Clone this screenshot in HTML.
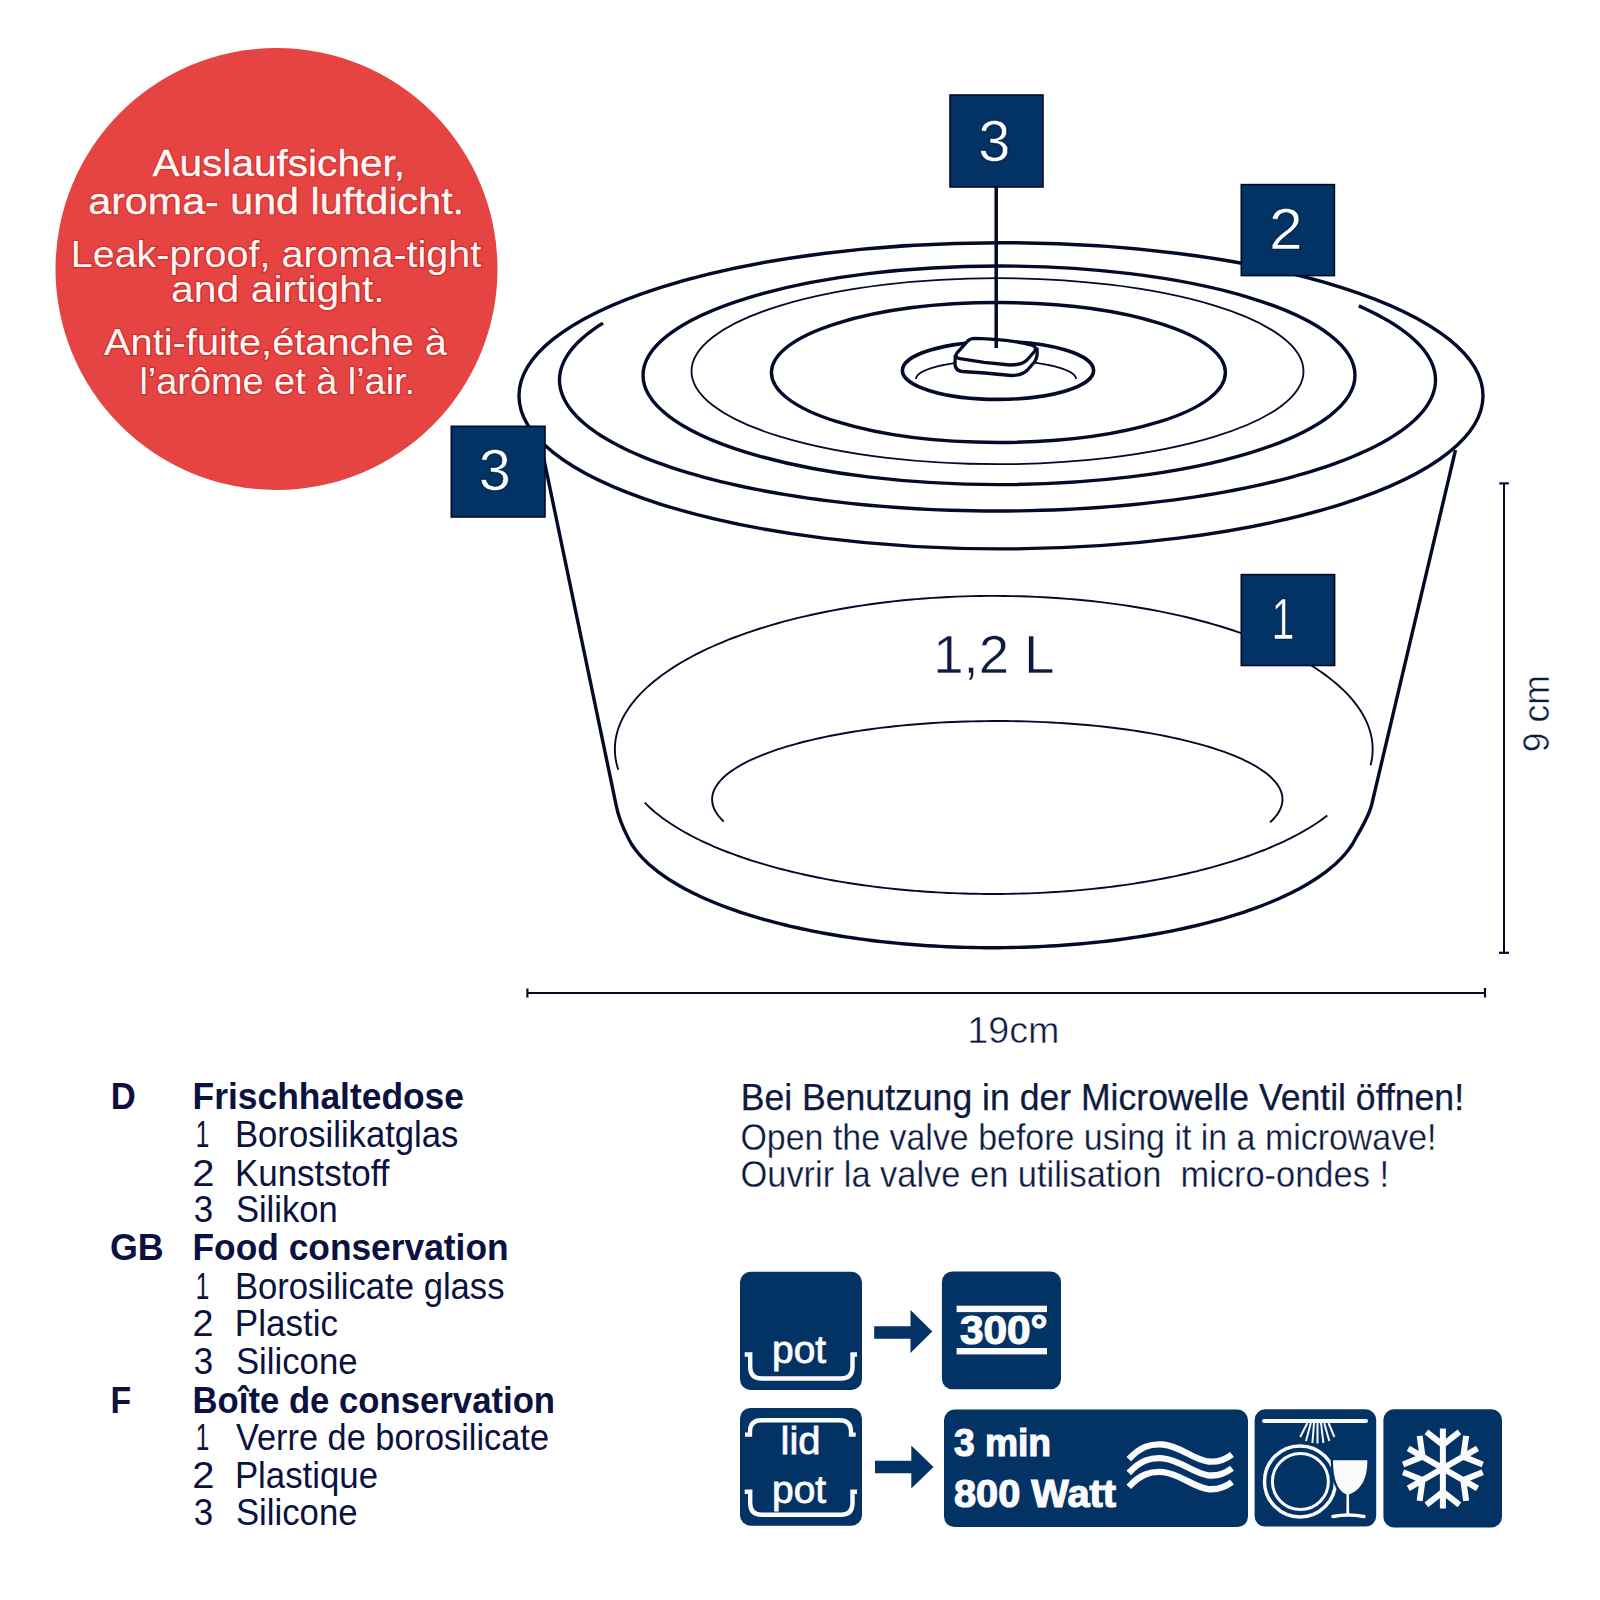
<!DOCTYPE html>
<html><head><meta charset="utf-8"><style>
html,body{margin:0;padding:0;background:#fff;width:1600px;height:1600px;overflow:hidden}
svg{display:block}
text{font-family:"Liberation Sans",sans-serif;white-space:pre}
</style></head><body>
<svg width="1600" height="1600" viewBox="0 0 1600 1600">
<rect width="1600" height="1600" fill="#fff"/>
<circle cx="276.5" cy="269" r="221" fill="#e64343"/>
<ellipse cx="1001" cy="395.8" rx="482" ry="153.1" fill="none" stroke="#040a2a" stroke-width="3.4"/>
<path d="M1358.75,305.92 L1365.11,308.78 L1371.23,311.68 L1377.08,314.64 L1382.68,317.63 L1388.01,320.67 L1393.07,323.75 L1397.86,326.87 L1402.38,330.03 L1406.62,333.22 L1410.57,336.44 L1414.25,339.69 L1417.63,342.97 L1420.73,346.27 L1423.54,349.60 L1426.06,352.95 L1428.28,356.32 L1430.21,359.70 L1431.84,363.10 L1433.17,366.51 L1434.20,369.92 L1434.94,373.35 L1435.37,376.78 L1435.50,380.21 L1435.33,383.64 L1434.86,387.07 L1434.09,390.50 L1433.02,393.91 L1431.65,397.32 L1429.99,400.72 L1428.03,404.10 L1425.77,407.46 L1423.21,410.81 L1420.37,414.13 L1417.23,417.44 L1413.81,420.71 L1410.10,423.96 L1406.11,427.18 L1401.84,430.36 L1397.29,433.51 L1392.46,436.63 L1387.37,439.70 L1382.00,442.74 L1376.38,445.73 L1370.49,448.67 L1364.35,451.57 L1357.95,454.42 L1351.31,457.22 L1344.42,459.97 L1337.30,462.66 L1329.94,465.29 L1322.36,467.87 L1314.55,470.38 L1306.52,472.84 L1298.29,475.23 L1289.84,477.55 L1281.20,479.81 L1272.36,482.00 L1263.33,484.11 L1254.12,486.16 L1244.73,488.14 L1235.18,490.04 L1225.46,491.86 L1215.58,493.61 L1205.55,495.28 L1195.39,496.87 L1185.08,498.38 L1174.65,499.81 L1164.09,501.15 L1153.42,502.42 L1142.65,503.60 L1131.77,504.69 L1120.80,505.70 L1109.75,506.62 L1098.62,507.46 L1087.42,508.21 L1076.16,508.87 L1064.85,509.44 L1053.49,509.93 L1042.09,510.32 L1030.66,510.62 L1019.20,510.84 L1007.74,510.96 L996.26,511.00 L984.79,510.94 L973.32,510.80 L961.87,510.57 L950.45,510.24 L939.06,509.83 L927.71,509.33 L916.40,508.73 L905.15,508.06 L893.97,507.29 L882.86,506.43 L871.82,505.49 L860.87,504.46 L850.02,503.35 L839.26,502.15 L828.62,500.87 L818.09,499.51 L807.68,498.06 L797.41,496.53 L787.27,494.92 L777.27,493.24 L767.43,491.47 L757.75,489.63 L748.23,487.72 L738.88,485.73 L729.70,483.66 L720.72,481.53 L711.92,479.33 L703.32,477.05 L694.92,474.72 L686.72,472.31 L678.75,469.85 L670.98,467.32 L663.45,464.73 L656.14,462.08 L649.07,459.38 L642.24,456.62 L635.65,453.81 L629.31,450.95 L623.22,448.04 L617.39,445.09 L611.82,442.09 L606.51,439.04 L601.47,435.96 L596.71,432.84 L592.22,429.68 L588.00,426.49 L584.07,423.26 L580.43,420.01 L577.06,416.73 L573.99,413.42 L571.21,410.09 L568.72,406.74 L566.53,403.37 L564.63,399.98 L563.02,396.59 L561.72,393.18 L560.72,389.76 L560.01,386.33 L559.61,382.90 L559.50,379.47 L559.70,376.04 L560.20,372.61 L561.00,369.19 L562.09,365.77 L563.49,362.36 L565.18,358.97 L567.17,355.59 L569.46,352.22 L572.04,348.88 L574.91,345.56 L578.07,342.26 L581.52,338.98 L585.26,335.74 L589.28,332.52 L593.57,329.34 L598.15,326.19 L603.00,323.08" fill="none" stroke="#040a2a" stroke-width="3.4"/>
<ellipse cx="999" cy="375.3" rx="356" ry="109.3" fill="none" stroke="#040a2a" stroke-width="3.4"/>
<ellipse cx="997.5" cy="371.2" rx="306" ry="93" fill="none" stroke="#040a2a" stroke-width="1.8"/>
<ellipse cx="998.4" cy="372.5" rx="227" ry="70" fill="none" stroke="#040a2a" stroke-width="3.4"/>
<ellipse cx="998" cy="370.5" rx="95.6" ry="28.9" fill="none" stroke="#040a2a" stroke-width="3.6"/>
<path d="M916.00,379.00 L916.11,378.03 L916.44,377.07 L916.98,376.11 L917.75,375.15 L918.73,374.21 L919.92,373.28 L921.31,372.37 L922.92,371.48 L924.72,370.60 L926.72,369.75 L928.91,368.92 L931.28,368.13 L933.83,367.36 L936.55,366.62 L939.43,365.92 L942.47,365.25 L945.65,364.62 L948.98,364.03 L952.43,363.48 L956.00,362.98 L959.68,362.52 L963.46,362.10 L967.33,361.73 L971.28,361.41 L975.29,361.13 L979.37,360.90 L983.49,360.73 L987.64,360.60 L991.81,360.53 L996.00,360.50 L1000.19,360.53 L1004.36,360.60 L1008.51,360.73 L1012.63,360.90 L1016.71,361.13 L1020.72,361.41 L1024.67,361.73 L1028.54,362.10 L1032.32,362.52 L1036.00,362.98 L1039.57,363.48 L1043.02,364.03 L1046.35,364.62 L1049.53,365.25 L1052.57,365.92 L1055.45,366.62 L1058.17,367.36 L1060.72,368.13 L1063.09,368.92 L1065.28,369.75 L1067.28,370.60 L1069.08,371.48 L1070.69,372.37 L1072.08,373.28 L1073.27,374.21 L1074.25,375.15 L1075.02,376.11 L1075.56,377.07 L1075.89,378.03 L1076.00,379.00" fill="none" stroke="#040a2a" stroke-width="1.8"/>
<path d="M955.3,355 L955,364.5 Q955.5,370.8 962.5,371.5 L985,373 L1011,375.5 Q1022,375.5 1027.5,370 L1034,362.5 Q1037.2,358.5 1037.2,352.5 L1037,347.5 L1000,338 L960,352 Z" fill="#fff" stroke="none"/>
<path d="M975,338.3 C990,338.6 1015,340.8 1032,345.2 Q1037.5,347 1034.5,351.5 L1027,360 Q1022,365 1010,365 L984,362.3 L960,358.6 Q953.5,357.3 957.5,352.3 L966.5,342.3 Q969.5,338.3 975,338.3 Z" fill="#fff" stroke="#040a2a" stroke-width="3.3" stroke-linejoin="round"/>
<path d="M955.3,355 L955,364.5 Q955.5,370.8 962.5,371.5 L985,373 L1011,375.5 Q1022,375.5 1027.5,370 L1034,362.5 Q1037.2,358.5 1037.2,352.5 L1037,347.5" fill="none" stroke="#040a2a" stroke-width="3.3" stroke-linejoin="round"/>
<line x1="996.2" y1="186" x2="996.2" y2="348" stroke="#040a2a" stroke-width="3.5"/>
<path d="M542,450 L616.3,806 Q619.2,820.5 628.21,838.00 L629.37,840.28 L630.65,842.55 L632.04,844.81 L633.53,847.06 L635.14,849.30 L636.86,851.53 L638.68,853.75 L640.61,855.96 L642.65,858.16 L644.80,860.34 L647.05,862.51 L649.40,864.67 L651.86,866.81 L654.43,868.93 L657.10,871.04 L659.87,873.13 L662.74,875.21 L665.71,877.26 L668.79,879.30 L671.96,881.31 L675.22,883.31 L678.59,885.28 L682.05,887.24 L685.61,889.17 L689.25,891.08 L693.00,892.97 L696.83,894.83 L700.75,896.67 L704.76,898.48 L708.86,900.27 L713.05,902.03 L717.32,903.77 L721.67,905.47 L726.11,907.15 L730.63,908.81 L735.23,910.43 L739.91,912.03 L744.66,913.59 L749.49,915.13 L754.39,916.63 L759.37,918.11 L764.42,919.55 L769.53,920.96 L774.72,922.34 L779.97,923.68 L785.28,925.00 L790.66,926.28 L796.10,927.52 L801.60,928.73 L807.16,929.91 L812.77,931.05 L818.44,932.16 L824.16,933.23 L829.94,934.26 L835.76,935.26 L841.63,936.22 L847.55,937.14 L853.51,938.03 L859.51,938.88 L865.55,939.69 L871.64,940.46 L877.75,941.20 L883.91,941.90 L890.09,942.56 L896.31,943.17 L902.56,943.76 L908.83,944.30 L915.13,944.80 L921.45,945.26 L927.80,945.68 L934.16,946.06 L940.54,946.41 L946.94,946.71 L953.35,946.97 L959.78,947.19 L966.21,947.38 L972.65,947.52 L979.10,947.62 L985.55,947.68 L992.00,947.70 L998.45,947.68 L1004.90,947.62 L1011.35,947.52 L1017.79,947.38 L1024.22,947.19 L1030.65,946.97 L1037.06,946.71 L1043.46,946.41 L1049.84,946.06 L1056.20,945.68 L1062.55,945.26 L1068.87,944.80 L1075.17,944.30 L1081.44,943.76 L1087.69,943.17 L1093.91,942.56 L1100.09,941.90 L1106.25,941.20 L1112.36,940.46 L1118.45,939.69 L1124.49,938.88 L1130.49,938.03 L1136.45,937.14 L1142.37,936.22 L1148.24,935.26 L1154.06,934.26 L1159.84,933.23 L1165.56,932.16 L1171.23,931.05 L1176.84,929.91 L1182.40,928.73 L1187.90,927.52 L1193.34,926.28 L1198.72,925.00 L1204.03,923.68 L1209.28,922.34 L1214.47,920.96 L1219.58,919.55 L1224.63,918.11 L1229.61,916.63 L1234.51,915.13 L1239.34,913.59 L1244.09,912.03 L1248.77,910.43 L1253.37,908.81 L1257.89,907.15 L1262.33,905.47 L1266.68,903.77 L1270.95,902.03 L1275.14,900.27 L1279.24,898.48 L1283.25,896.67 L1287.17,894.83 L1291.00,892.97 L1294.75,891.08 L1298.39,889.17 L1301.95,887.24 L1305.41,885.28 L1308.78,883.31 L1312.04,881.31 L1315.21,879.30 L1318.29,877.26 L1321.26,875.21 L1324.13,873.13 L1326.90,871.04 L1329.57,868.93 L1332.14,866.81 L1334.60,864.67 L1336.95,862.51 L1339.20,860.34 L1341.35,858.16 L1343.39,855.96 L1345.32,853.75 L1347.14,851.53 L1348.86,849.30 L1350.47,847.06 L1351.96,844.81 L1353.35,842.55 L1354.63,840.28 L1355.79,838.00 Q1368.8,816 1371.6,805 L1455.5,450" fill="none" stroke="#040a2a" stroke-width="3.4" stroke-linejoin="round"/>
<path d="M618.29,769.75 L617.30,766.54 L616.48,763.31 L615.83,760.08 L615.34,756.85 L615.03,753.61 L614.88,750.38 L614.90,747.14 L615.10,743.90 L615.46,740.66 L615.99,737.43 L616.69,734.20 L617.55,730.98 L618.59,727.77 L619.79,724.57 L621.16,721.38 L622.70,718.20 L624.40,715.03 L626.27,711.88 L628.30,708.75 L630.49,705.63 L632.85,702.54 L635.37,699.46 L638.04,696.41 L640.88,693.38 L643.87,690.38 L647.02,687.40 L650.33,684.45 L653.79,681.53 L657.40,678.64 L661.16,675.78 L665.07,672.95 L669.12,670.16 L673.32,667.40 L677.67,664.68 L682.15,661.99 L686.77,659.35 L691.54,656.74 L696.43,654.18 L701.46,651.66 L706.62,649.18 L711.91,646.75 L717.32,644.36 L722.86,642.02 L728.51,639.73 L734.29,637.49 L740.18,635.30 L746.19,633.15 L752.30,631.06 L758.53,629.02 L764.85,627.04 L771.29,625.11 L777.82,623.24 L784.44,621.42 L791.16,619.66 L797.97,617.95 L804.87,616.31 L811.85,614.72 L818.92,613.20 L826.06,611.74 L833.27,610.33 L840.56,608.99 L847.92,607.71 L855.34,606.50 L862.82,605.35 L870.36,604.26 L877.96,603.24 L885.61,602.28 L893.31,601.39 L901.05,600.56 L908.83,599.80 L916.65,599.11 L924.51,598.48 L932.39,597.92 L940.31,597.43 L948.25,597.01 L956.20,596.66 L964.18,596.37 L972.17,596.15 L980.17,596.00 L988.17,595.92 L996.18,595.90 L1004.18,595.96 L1012.18,596.08 L1020.17,596.27 L1028.15,596.53 L1036.12,596.86 L1044.07,597.26 L1051.99,597.72 L1059.89,598.25 L1067.76,598.85 L1075.59,599.52 L1083.39,600.25 L1091.15,601.05 L1098.86,601.91 L1106.53,602.85 L1114.15,603.84 L1121.71,604.90 L1129.22,606.03 L1136.67,607.22 L1144.05,608.47 L1151.37,609.79 L1158.61,611.17 L1165.78,612.61 L1172.88,614.11 L1179.89,615.67 L1186.82,617.29 L1193.67,618.97 L1200.43,620.71 L1207.09,622.50 L1213.66,624.36 L1220.13,626.26 L1226.50,628.23 L1232.77,630.24 L1238.92,632.31 L1244.97,634.43 L1250.91,636.61 L1256.73,638.83 L1262.44,641.10 L1268.02,643.42 L1273.49,645.79 L1278.83,648.21 L1284.04,650.67 L1289.12,653.17 L1294.07,655.72 L1298.88,658.30 L1303.56,660.93 L1308.10,663.60 L1312.50,666.31 L1316.76,669.05 L1320.87,671.83 L1324.84,674.64 L1328.66,677.49 L1332.33,680.37 L1335.85,683.28 L1339.21,686.22 L1342.43,689.18 L1345.48,692.18 L1348.38,695.20 L1351.12,698.24 L1353.71,701.31 L1356.13,704.40 L1358.38,707.50 L1360.48,710.63 L1362.41,713.77 L1364.18,716.93 L1365.78,720.11 L1367.22,723.29 L1368.49,726.49 L1369.59,729.70 L1370.53,732.92 L1371.29,736.14 L1371.89,739.37 L1372.32,742.61 L1372.58,745.84 L1372.67,749.08 L1372.59,752.32 L1372.34,755.56 L1371.93,758.79 L1371.34,762.03 L1370.59,765.25" fill="none" stroke="#040a2a" stroke-width="1.9"/>
<path d="M723.68,821.50 L721.88,819.74 L720.23,817.98 L718.73,816.20 L717.39,814.42 L716.19,812.62 L715.15,810.82 L714.26,809.01 L713.52,807.20 L712.93,805.39 L712.50,803.57 L712.23,801.74 L712.11,799.92 L712.14,798.10 L712.33,796.28 L712.67,794.45 L713.16,792.64 L713.81,790.82 L714.62,789.01 L715.57,787.21 L716.68,785.41 L717.94,783.62 L719.36,781.84 L720.92,780.06 L722.63,778.30 L724.49,776.55 L726.50,774.81 L728.66,773.09 L730.96,771.38 L733.40,769.68 L735.99,768.00 L738.72,766.34 L741.59,764.70 L744.60,763.07 L747.74,761.47 L751.02,759.88 L754.44,758.32 L757.98,756.78 L761.66,755.26 L765.46,753.76 L769.39,752.29 L773.44,750.85 L777.61,749.43 L781.90,748.04 L786.31,746.68 L790.83,745.34 L795.47,744.04 L800.21,742.76 L805.06,741.52 L810.01,740.30 L815.07,739.12 L820.22,737.97 L825.47,736.86 L830.82,735.78 L836.25,734.73 L841.77,733.72 L847.38,732.74 L853.06,731.80 L858.83,730.90 L864.67,730.03 L870.58,729.20 L876.56,728.41 L882.60,727.66 L888.71,726.94 L894.87,726.27 L901.09,725.63 L907.37,725.04 L913.69,724.48 L920.06,723.97 L926.47,723.50 L932.91,723.06 L939.40,722.67 L945.91,722.32 L952.45,722.01 L959.02,721.75 L965.61,721.53 L972.21,721.34 L978.83,721.20 L985.45,721.11 L992.09,721.05 L998.72,721.04 L1005.36,721.07 L1011.99,721.14 L1018.62,721.26 L1025.23,721.42 L1031.82,721.62 L1038.40,721.86 L1044.96,722.14 L1051.49,722.47 L1057.99,722.83 L1064.46,723.24 L1070.89,723.69 L1077.28,724.18 L1083.63,724.72 L1089.93,725.29 L1096.18,725.90 L1102.38,726.55 L1108.52,727.24 L1114.60,727.97 L1120.62,728.74 L1126.57,729.55 L1132.45,730.40 L1138.26,731.28 L1143.99,732.20 L1149.64,733.16 L1155.21,734.15 L1160.69,735.17 L1166.09,736.24 L1171.39,737.33 L1176.60,738.46 L1181.71,739.63 L1186.73,740.82 L1191.64,742.05 L1196.44,743.31 L1201.14,744.59 L1205.72,745.91 L1210.20,747.26 L1214.56,748.63 L1218.80,750.04 L1222.92,751.47 L1226.92,752.92 L1230.79,754.40 L1234.54,755.91 L1238.16,757.44 L1241.64,758.99 L1245.00,760.56 L1248.22,762.15 L1251.31,763.77 L1254.26,765.40 L1257.07,767.05 L1259.74,768.72 L1262.26,770.41 L1264.65,772.11 L1266.89,773.83 L1268.98,775.56 L1270.92,777.30 L1272.72,779.06 L1274.37,780.82 L1275.87,782.60 L1277.22,784.39 L1278.41,786.18 L1279.46,787.98 L1280.35,789.79 L1281.08,791.60 L1281.67,793.42 L1282.10,795.24 L1282.37,797.06 L1282.49,798.88 L1282.46,800.70 L1282.27,802.53 L1281.93,804.35 L1281.43,806.17 L1280.78,807.98 L1279.98,809.79 L1279.02,811.60 L1277.92,813.39 L1276.65,815.18 L1275.24,816.97 L1273.68,818.74 L1271.97,820.50 L1270.11,822.25" fill="none" stroke="#040a2a" stroke-width="1.9"/>
<path d="M644.80,802.75 L646.70,804.65 L648.68,806.55 L650.72,808.43 L652.84,810.30 L655.04,812.16 L657.30,814.01 L659.64,815.84 L662.05,817.66 L664.53,819.47 L667.08,821.26 L669.70,823.04 L672.39,824.81 L675.15,826.56 L677.98,828.29 L680.87,830.01 L683.83,831.71 L686.86,833.40 L689.95,835.07 L693.11,836.72 L696.33,838.36 L699.62,839.98 L702.97,841.58 L706.38,843.16 L709.85,844.72 L713.38,846.26 L716.98,847.79 L720.63,849.29 L724.34,850.77 L728.11,852.24 L731.93,853.68 L735.81,855.10 L739.75,856.50 L743.74,857.88 L747.78,859.23 L751.88,860.57 L756.03,861.88 L760.23,863.16 L764.48,864.43 L768.78,865.67 L773.12,866.89 L777.52,868.08 L781.95,869.25 L786.44,870.40 L790.97,871.52 L795.54,872.61 L800.16,873.68 L804.81,874.73 L809.51,875.75 L814.25,876.74 L819.02,877.71 L823.83,878.65 L828.68,879.57 L833.56,880.46 L838.48,881.32 L843.43,882.15 L848.41,882.96 L853.43,883.74 L858.47,884.49 L863.54,885.21 L868.64,885.91 L873.77,886.58 L878.92,887.22 L884.10,887.83 L889.30,888.42 L894.52,888.97 L899.77,889.50 L905.03,890.00 L910.31,890.46 L915.62,890.90 L920.93,891.32 L926.27,891.70 L931.61,892.05 L936.97,892.37 L942.34,892.67 L947.73,892.93 L953.12,893.16 L958.52,893.37 L963.93,893.55 L969.35,893.69 L974.77,893.81 L980.19,893.89 L985.62,893.95 L991.05,893.98 L996.48,893.97 L1001.91,893.94 L1007.33,893.88 L1012.76,893.79 L1018.18,893.67 L1023.59,893.52 L1029.00,893.33 L1034.40,893.12 L1039.79,892.88 L1045.17,892.61 L1050.54,892.31 L1055.90,891.99 L1061.24,891.63 L1066.57,891.24 L1071.89,890.83 L1077.19,890.38 L1082.47,889.91 L1087.73,889.40 L1092.97,888.87 L1098.19,888.31 L1103.38,887.72 L1108.55,887.10 L1113.70,886.46 L1118.82,885.78 L1123.92,885.08 L1128.99,884.35 L1134.03,883.60 L1139.03,882.81 L1144.01,882.00 L1148.95,881.16 L1153.87,880.29 L1158.74,879.40 L1163.58,878.48 L1168.39,877.53 L1173.16,876.56 L1177.88,875.56 L1182.57,874.54 L1187.22,873.49 L1191.83,872.41 L1196.39,871.31 L1200.92,870.19 L1205.39,869.04 L1209.82,867.86 L1214.21,866.67 L1218.55,865.44 L1222.83,864.20 L1227.07,862.93 L1231.26,861.64 L1235.40,860.32 L1239.49,858.98 L1243.52,857.62 L1247.50,856.24 L1251.43,854.84 L1255.30,853.41 L1259.12,851.97 L1262.87,850.50 L1266.57,849.01 L1270.22,847.50 L1273.80,845.98 L1277.32,844.43 L1280.78,842.87 L1284.18,841.28 L1287.52,839.68 L1290.79,838.06 L1294.00,836.42 L1297.15,834.76 L1300.23,833.09 L1303.24,831.40 L1306.19,829.69 L1309.07,827.97 L1311.89,826.23 L1314.63,824.48 L1317.31,822.71 L1319.92,820.93 L1322.46,819.13 L1324.92,817.32 L1327.32,815.50" fill="none" stroke="#040a2a" stroke-width="1.9"/>
<rect x="950" y="95" width="93.00" height="92.00" fill="#033265" stroke="#000b2e" stroke-width="1.6"/>
<rect x="1241.3" y="184.6" width="93.10" height="91.00" fill="#033265" stroke="#000b2e" stroke-width="1.6"/>
<rect x="1241.3" y="574.6" width="93.30" height="90.90" fill="#033265" stroke="#000b2e" stroke-width="1.6"/>
<rect x="451.3" y="426.3" width="93.70" height="90.70" fill="#033265" stroke="#000b2e" stroke-width="1.6"/>
<line x1="527.4" y1="993" x2="1485" y2="993" stroke="#040a2a" stroke-width="2"/>
<line x1="527.4" y1="988.5" x2="527.4" y2="997.5" stroke="#040a2a" stroke-width="2.2"/>
<line x1="1485" y1="988" x2="1485" y2="997.5" stroke="#040a2a" stroke-width="2.2"/>
<line x1="1504" y1="483.4" x2="1504" y2="952.8" stroke="#040a2a" stroke-width="2"/>
<line x1="1499.3" y1="483.4" x2="1508.8" y2="483.4" stroke="#040a2a" stroke-width="2.2"/>
<line x1="1499" y1="952.8" x2="1509" y2="952.8" stroke="#040a2a" stroke-width="2.2"/>
<rect x="740" y="1271.8" width="122.00" height="118.10" rx="10.5" fill="#033265"/>
<rect x="941.9" y="1271.4" width="119.10" height="117.90" rx="10.5" fill="#033265"/>
<rect x="740" y="1408" width="122.00" height="117.70" rx="10.5" fill="#033265"/>
<rect x="944" y="1409.6" width="304.00" height="117.40" rx="10.5" fill="#033265"/>
<rect x="1254.6" y="1409.3" width="121.60" height="117.30" rx="10.5" fill="#033265"/>
<rect x="1383.4" y="1409.3" width="118.60" height="118.10" rx="10.5" fill="#033265"/>
<path d="M874.2,1326.2 H910.5 V1310 L932.3,1331.6 L910.5,1353.1 V1338.7 H874.2 Z" fill="#033265"/>
<path d="M875,1460.8 H911.3 V1445.5 L933.5,1467 L911.3,1488.6 V1473.3 H875 Z" fill="#033265"/>
<path d="M744.7,1354.5 L750.2,1354.5 L750.2,1367.0 Q750.2,1378.5 761.7,1378.5 L841.0,1378.5 Q852.5,1378.5 852.5,1367.0 L852.5,1354.5 L857,1354.5" fill="none" stroke="#fbfbfb" stroke-width="4.4" stroke-linejoin="miter"/>
<path d="M745,1434.6 L750,1434.6 L750,1431.75 Q750,1420.25 761.5,1420.25 L839.5,1420.25 Q851,1420.25 851,1431.75 L851,1434.6 L855.7,1434.6" fill="none" stroke="#fbfbfb" stroke-width="4.3" stroke-linejoin="miter"/>
<path d="M744.7,1491.8 L750.2,1491.8 L750.2,1503.3 Q750.2,1514.8 761.7,1514.8 L841.0,1514.8 Q852.5,1514.8 852.5,1503.3 L852.5,1491.8 L857,1491.8" fill="none" stroke="#fbfbfb" stroke-width="4.4" stroke-linejoin="miter"/>
<rect x="956.6" y="1305.7" width="90.4" height="6.4" fill="#fbfbfb"/>
<rect x="956.6" y="1348" width="90.4" height="6.4" fill="#fbfbfb"/>
<path d="M1128.8,1459.2 C1140,1447 1150,1443.5 1163,1444.5 C1180,1446 1192,1459 1208,1461.5 C1218,1462.5 1226,1459 1232,1454.4" fill="none" stroke="#fbfbfb" stroke-width="6.3"/>
<path d="M1128.8,1473.0 C1140,1460.8 1150,1457.3 1163,1458.3 C1180,1459.8 1192,1472.8 1208,1475.3 C1218,1476.3 1226,1472.8 1232,1468.2" fill="none" stroke="#fbfbfb" stroke-width="6.3"/>
<path d="M1128.8,1486.8 C1140,1474.6 1150,1471.1 1163,1472.1 C1180,1473.6 1192,1486.6 1208,1489.1 C1218,1490.1 1226,1486.6 1232,1482.0" fill="none" stroke="#fbfbfb" stroke-width="6.3"/>
<line x1="1264" y1="1421" x2="1366" y2="1421" stroke="#fbfbfb" stroke-width="4" stroke-linecap="round"/>
<line x1="1307.4" y1="1423" x2="1300.2" y2="1437" stroke="#fbfbfb" stroke-width="2"/>
<line x1="1310.8" y1="1423" x2="1306" y2="1441" stroke="#fbfbfb" stroke-width="2"/>
<line x1="1314" y1="1423" x2="1312.4" y2="1443" stroke="#fbfbfb" stroke-width="2"/>
<line x1="1317.5" y1="1423" x2="1317.5" y2="1443.5" stroke="#fbfbfb" stroke-width="2"/>
<line x1="1321" y1="1423" x2="1323.4" y2="1443" stroke="#fbfbfb" stroke-width="2"/>
<line x1="1324.2" y1="1423" x2="1329.3" y2="1441" stroke="#fbfbfb" stroke-width="2"/>
<line x1="1328.5" y1="1423" x2="1334.4" y2="1437" stroke="#fbfbfb" stroke-width="2"/>
<circle cx="1300" cy="1481.4" r="35.5" fill="none" stroke="#fbfbfb" stroke-width="3.5"/>
<circle cx="1300.4" cy="1481.6" r="28" fill="none" stroke="#fbfbfb" stroke-width="3"/>
<path d="M1333,1460.3 L1367.3,1460.3 C1367.5,1474 1364,1489 1349,1494.5 L1349.2,1515 L1346.3,1515 L1346.5,1494.5 C1337,1491 1333,1478 1333,1460.3 Z" fill="#fbfbfb" stroke="#033265" stroke-width="4.5" stroke-linejoin="round"/>
<path d="M1333,1460.3 L1367.3,1460.3 C1367.5,1474 1364,1489 1349,1494.5 L1349.2,1515 L1346.3,1515 L1346.5,1494.5 C1337,1491 1333,1478 1333,1460.3 Z" fill="#fbfbfb"/>
<path d="M1333,1516.5 Q1348,1513.5 1364,1516.5" fill="none" stroke="#fbfbfb" stroke-width="3.6" stroke-linecap="round"/>
<path d="M1442.90,1468.40 L1442.90,1428.40 M1442.90,1444.90 L1459.45,1431.97 M1442.90,1444.90 L1426.35,1431.97 M1442.90,1468.40 L1408.26,1448.40 M1422.55,1456.65 L1419.63,1435.85 M1422.55,1456.65 L1403.08,1464.52 M1442.90,1468.40 L1408.26,1488.40 M1422.55,1480.15 L1403.08,1472.28 M1422.55,1480.15 L1419.63,1500.95 M1442.90,1468.40 L1442.90,1508.40 M1442.90,1491.90 L1426.35,1504.83 M1442.90,1491.90 L1459.45,1504.83 M1442.90,1468.40 L1477.54,1488.40 M1463.25,1480.15 L1466.17,1500.95 M1463.25,1480.15 L1482.72,1472.28 M1442.90,1468.40 L1477.54,1448.40 M1463.25,1456.65 L1482.72,1464.52 M1463.25,1456.65 L1466.17,1435.85" fill="none" stroke="#fbfbfb" stroke-width="6" stroke-linecap="butt"/>
<text x="152.48" y="176.20" font-size="36.5" fill="none" stroke="#b01818" stroke-width="2.6" stroke-opacity="0.45" textLength="252.61" lengthAdjust="spacingAndGlyphs">Auslaufsicher,</text>
<text x="152.48" y="176.20" font-size="36.5" fill="#fff8f4" textLength="252.61" lengthAdjust="spacingAndGlyphs" stroke="#fff8f4" stroke-width="0.35">Auslaufsicher,</text>
<text x="88.21" y="213.70" font-size="36.5" fill="none" stroke="#b01818" stroke-width="2.6" stroke-opacity="0.45" textLength="375.85" lengthAdjust="spacingAndGlyphs">aroma- und luftdicht.</text>
<text x="88.21" y="213.70" font-size="36.5" fill="#fff8f4" textLength="375.85" lengthAdjust="spacingAndGlyphs" stroke="#fff8f4" stroke-width="0.35">aroma- und luftdicht.</text>
<text x="70.71" y="266.50" font-size="37" fill="none" stroke="#b01818" stroke-width="2.6" stroke-opacity="0.45" textLength="410.50" lengthAdjust="spacingAndGlyphs">Leak-proof, aroma-tight</text>
<text x="70.71" y="266.50" font-size="37" fill="#fff8f4" textLength="410.50" lengthAdjust="spacingAndGlyphs">Leak-proof, aroma-tight</text>
<text x="171.12" y="302.30" font-size="37" fill="none" stroke="#b01818" stroke-width="2.6" stroke-opacity="0.45" textLength="213.63" lengthAdjust="spacingAndGlyphs">and airtight.</text>
<text x="171.12" y="302.30" font-size="37" fill="#fff8f4" textLength="213.63" lengthAdjust="spacingAndGlyphs">and airtight.</text>
<text x="103.99" y="355.00" font-size="37" fill="none" stroke="#b01818" stroke-width="2.6" stroke-opacity="0.45" textLength="343.01" lengthAdjust="spacingAndGlyphs">Anti-fuite,étanche à</text>
<text x="103.99" y="355.00" font-size="37" fill="#fff8f4" textLength="343.01" lengthAdjust="spacingAndGlyphs">Anti-fuite,étanche à</text>
<text x="139.42" y="393.75" font-size="37" fill="none" stroke="#b01818" stroke-width="2.6" stroke-opacity="0.45" textLength="275.69" lengthAdjust="spacingAndGlyphs">l’arôme et à l’air.</text>
<text x="139.42" y="393.75" font-size="37" fill="#fff8f4" textLength="275.69" lengthAdjust="spacingAndGlyphs">l’arôme et à l’air.</text>
<text x="978.37" y="161.00" font-size="58" fill="none" stroke="#000b2e" stroke-width="2.0" stroke-opacity="0.5" textLength="32.15" lengthAdjust="spacingAndGlyphs">3</text>
<text x="978.37" y="161.00" font-size="58" fill="#fff" textLength="32.15" lengthAdjust="spacingAndGlyphs" stroke="#033265" stroke-width="0.7">3</text>
<text x="1269.00" y="249.40" font-size="58" fill="none" stroke="#000b2e" stroke-width="2.0" stroke-opacity="0.5" textLength="33.71" lengthAdjust="spacingAndGlyphs">2</text>
<text x="1269.00" y="249.40" font-size="58" fill="#fff" textLength="33.71" lengthAdjust="spacingAndGlyphs" stroke="#033265" stroke-width="0.7">2</text>
<text x="1271.38" y="639.30" font-size="58" fill="none" stroke="#000b2e" stroke-width="2.0" stroke-opacity="0.5" textLength="22.94" lengthAdjust="spacingAndGlyphs">1</text>
<text x="1271.38" y="639.30" font-size="58" fill="#fff" textLength="22.94" lengthAdjust="spacingAndGlyphs" stroke="#033265" stroke-width="0.7">1</text>
<text x="478.73" y="490.40" font-size="58" fill="none" stroke="#000b2e" stroke-width="2.0" stroke-opacity="0.5" textLength="32.11" lengthAdjust="spacingAndGlyphs">3</text>
<text x="478.73" y="490.40" font-size="58" fill="#fff" textLength="32.11" lengthAdjust="spacingAndGlyphs" stroke="#033265" stroke-width="0.7">3</text>
<text x="933.21" y="672.50" font-size="54" fill="#0e1a40" textLength="121.40" lengthAdjust="spacingAndGlyphs" stroke="#ffffff" stroke-width="0.5">1,2 L</text>
<text x="967.19" y="1043.00" font-size="36" fill="#0e1a40" textLength="92.22" lengthAdjust="spacingAndGlyphs" stroke="#ffffff" stroke-width="0.5">19cm</text>
<text x="110.70" y="1109.00" font-size="37" fill="#0b1240" font-weight="bold" textLength="25.01" lengthAdjust="spacingAndGlyphs">D</text>
<text x="192.55" y="1109.00" font-size="37" fill="#0b1240" font-weight="bold" textLength="271.46" lengthAdjust="spacingAndGlyphs">Frischhaltedose</text>
<text x="195.74" y="1146.50" font-size="37" fill="#0b1240" textLength="13.55" lengthAdjust="spacingAndGlyphs">1</text>
<text x="234.95" y="1146.50" font-size="37" fill="#0b1240" textLength="223.50" lengthAdjust="spacingAndGlyphs">Borosilikatglas</text>
<text x="192.38" y="1185.50" font-size="37" fill="#0b1240" textLength="22.23" lengthAdjust="spacingAndGlyphs">2</text>
<text x="234.94" y="1185.50" font-size="37" fill="#0b1240" textLength="154.59" lengthAdjust="spacingAndGlyphs">Kunststoff</text>
<text x="193.86" y="1221.50" font-size="37" fill="#0b1240" textLength="19.40" lengthAdjust="spacingAndGlyphs">3</text>
<text x="235.91" y="1221.50" font-size="37" fill="#0b1240" textLength="101.73" lengthAdjust="spacingAndGlyphs">Silikon</text>
<text x="109.88" y="1259.50" font-size="37" fill="#0b1240" font-weight="bold" textLength="53.83" lengthAdjust="spacingAndGlyphs">GB</text>
<text x="192.55" y="1259.50" font-size="37" fill="#0b1240" font-weight="bold" textLength="316.00" lengthAdjust="spacingAndGlyphs">Food conservation</text>
<text x="195.74" y="1298.50" font-size="37" fill="#0b1240" textLength="13.55" lengthAdjust="spacingAndGlyphs">1</text>
<text x="234.95" y="1298.50" font-size="37" fill="#0b1240" textLength="269.58" lengthAdjust="spacingAndGlyphs">Borosilicate glass</text>
<text x="192.47" y="1336.00" font-size="37" fill="#0b1240" textLength="21.00" lengthAdjust="spacingAndGlyphs">2</text>
<text x="234.87" y="1336.00" font-size="37" fill="#0b1240" textLength="103.17" lengthAdjust="spacingAndGlyphs">Plastic</text>
<text x="193.86" y="1373.50" font-size="37" fill="#0b1240" textLength="19.40" lengthAdjust="spacingAndGlyphs">3</text>
<text x="235.95" y="1373.50" font-size="37" fill="#0b1240" textLength="121.62" lengthAdjust="spacingAndGlyphs">Silicone</text>
<text x="110.57" y="1412.50" font-size="37" fill="#0b1240" font-weight="bold" textLength="20.64" lengthAdjust="spacingAndGlyphs">F</text>
<text x="192.56" y="1412.50" font-size="37" fill="#0b1240" font-weight="bold" textLength="362.47" lengthAdjust="spacingAndGlyphs">Boîte de conservation</text>
<text x="195.74" y="1450.00" font-size="37" fill="#0b1240" textLength="13.55" lengthAdjust="spacingAndGlyphs">1</text>
<text x="235.97" y="1450.00" font-size="37" fill="#0b1240" textLength="313.04" lengthAdjust="spacingAndGlyphs">Verre de borosilicate</text>
<text x="192.38" y="1487.50" font-size="37" fill="#0b1240" textLength="22.23" lengthAdjust="spacingAndGlyphs">2</text>
<text x="234.89" y="1487.50" font-size="37" fill="#0b1240" textLength="143.19" lengthAdjust="spacingAndGlyphs">Plastique</text>
<text x="193.86" y="1525.00" font-size="37" fill="#0b1240" textLength="19.40" lengthAdjust="spacingAndGlyphs">3</text>
<text x="235.95" y="1525.00" font-size="37" fill="#0b1240" textLength="121.62" lengthAdjust="spacingAndGlyphs">Silicone</text>
<text x="740.72" y="1110.00" font-size="36" fill="#0e1a40" textLength="723.31" lengthAdjust="spacingAndGlyphs" stroke="#0e1a40" stroke-width="0.25">Bei Benutzung in der Microwelle Ventil öffnen!</text>
<text x="740.48" y="1149.50" font-size="36" fill="#0e1a40" textLength="696.05" lengthAdjust="spacingAndGlyphs" stroke="#ffffff" stroke-width="0.3">Open the valve before using it in a microwave!</text>
<text x="740.48" y="1187.00" font-size="36" fill="#0e1a40" textLength="648.54" lengthAdjust="spacingAndGlyphs" stroke="#ffffff" stroke-width="0.3">Ouvrir la valve en utilisation  micro-ondes !</text>
<text x="772.04" y="1362.90" font-size="38" fill="#fbfbfb" textLength="54.08" lengthAdjust="spacingAndGlyphs" stroke="#fbfbfb" stroke-width="0.8">pot</text>
<text x="780.52" y="1454.40" font-size="38" fill="#fbfbfb" textLength="39.99" lengthAdjust="spacingAndGlyphs" stroke="#fbfbfb" stroke-width="0.8">lid</text>
<text x="772.04" y="1502.50" font-size="38" fill="#fbfbfb" textLength="54.08" lengthAdjust="spacingAndGlyphs" stroke="#fbfbfb" stroke-width="0.8">pot</text>
<text x="959.90" y="1344.40" font-size="40" fill="#fbfbfb" font-weight="bold" textLength="87.64" lengthAdjust="spacingAndGlyphs" stroke="#fbfbfb" stroke-width="1.2">300°</text>
<text x="953.92" y="1456.00" font-size="38" fill="#fbfbfb" font-weight="bold" textLength="97.20" lengthAdjust="spacingAndGlyphs" stroke="#fbfbfb" stroke-width="1.2">3 min</text>
<text x="953.97" y="1507.00" font-size="38" fill="#fbfbfb" font-weight="bold" textLength="162.04" lengthAdjust="spacingAndGlyphs" stroke="#fbfbfb" stroke-width="1.2">800 Watt</text>
<text x="0" y="0" font-size="37.5" fill="#0e1a40" stroke="#fff" stroke-width="0.5" textLength="77" lengthAdjust="spacingAndGlyphs" transform="translate(1549,752.2) rotate(-90)">9 cm</text>
</svg>
</body></html>
